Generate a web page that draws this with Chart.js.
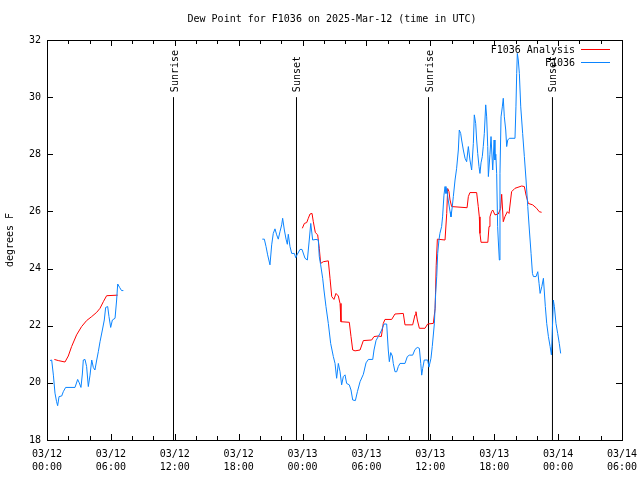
<!DOCTYPE html>
<html>
<head>
<meta charset="utf-8">
<title>Dew Point for F1036</title>
<script src="https://cdn.jsdelivr.net/npm/chart.js@4/dist/chart.umd.min.js"></script>
<style>
  html, body { margin: 0; padding: 0; background: #fff; }
  #wrap { width: 640px; height: 480px; }
</style>
</head>
<body>
<div id="wrap"><canvas id="dewChart" width="640" height="480"></canvas></div>
<script>
// hours since 03/12 00:00 UTC
const obsEarlyHours = [0.28, 0.44, 0.6, 0.75, 0.9, 1.0, 1.13, 1.38, 1.53, 1.75, 2.63, 2.88, 3.03, 3.19, 3.32, 3.41, 3.57, 3.72, 3.88, 4.04, 4.2, 4.35, 4.5, 4.67, 4.82, 4.98, 5.2, 5.38, 5.51, 5.7, 5.82, 5.98, 6.14, 6.39, 6.54, 6.64, 6.82, 7.0, 7.17];
const obsEarlyDew = [20.78, 20.8, 20.27, 19.64, 19.34, 19.2, 19.52, 19.54, 19.69, 19.84, 19.84, 20.12, 20.0, 19.84, 20.31, 20.8, 20.82, 20.57, 19.87, 20.27, 20.8, 20.54, 20.45, 20.8, 21.09, 21.44, 21.85, 22.2, 22.64, 22.67, 22.32, 21.94, 22.2, 22.26, 22.9, 23.46, 23.34, 23.23, 23.23];

const obsLateHours = [20.22, 20.41, 20.57, 20.72, 20.94, 21.1, 21.25, 21.41, 21.57, 21.72, 21.88, 22.04, 22.13, 22.29, 22.45, 22.57, 22.66, 22.82, 22.98, 23.23, 23.36, 23.48, 23.76, 23.95, 24.23, 24.45, 24.63, 24.77, 24.95, 25.26, 25.48, 25.57, 25.7, 25.89, 26.01, 26.2, 26.42, 26.64, 26.89, 27.05, 27.2, 27.36, 27.52, 27.67, 27.83, 27.99, 28.14, 28.39, 28.55, 28.71, 28.96, 29.15, 29.4, 29.71, 29.96, 30.18, 30.59, 30.71, 30.9, 31.11, 31.27, 31.43, 31.65, 31.9, 32.05, 32.15, 32.28, 32.43, 32.52, 32.68, 32.84, 32.99, 33.15, 33.62, 33.84, 34.03, 34.34, 34.56, 34.78, 34.97, 35.1, 35.19, 35.28, 35.43, 35.75, 35.87, 36.06, 36.18, 36.38, 36.5, 36.6, 36.69, 36.81, 36.9, 37.06, 37.15, 37.28, 37.38, 37.47, 37.55, 37.63, 37.85, 37.94, 38.06, 38.16, 38.32, 38.47, 38.63, 38.72, 38.85, 38.94, 39.1, 39.26, 39.41, 39.57, 39.72, 39.88, 40.04, 40.13, 40.26, 40.35, 40.45, 40.57, 40.66, 40.76, 40.88, 40.97, 41.07, 41.2, 41.29, 41.39, 41.45, 41.6, 41.7, 41.86, 41.99, 42.07, 42.15, 42.23, 42.32, 42.38, 42.48, 42.54, 42.64, 42.76, 42.85, 42.95, 43.08, 43.17, 43.27, 43.42, 43.95, 44.04, 44.11, 44.17, 44.26, 44.36, 44.49, 44.67, 44.83, 44.99, 45.15, 45.3, 45.46, 45.59, 45.68, 45.93, 46.09, 46.21, 46.31, 46.47, 46.62, 46.8, 46.93, 47.09, 47.25, 47.37, 47.43, 47.55, 47.65, 47.8, 47.96, 48.11, 48.24];
const obsLateDew = [25.03, 25.03, 24.77, 24.48, 24.13, 24.83, 25.23, 25.39, 25.18, 25.03, 25.29, 25.53, 25.76, 25.35, 25.03, 24.85, 25.2, 24.77, 24.53, 24.53, 24.38, 24.48, 24.67, 24.67, 24.36, 24.3, 25.0, 25.58, 25.0, 25.02, 25.0, 24.42, 24.13, 23.66, 23.25, 22.67, 22.08, 21.38, 20.92, 20.68, 20.16, 20.68, 20.39, 19.93, 20.22, 20.28, 19.98, 19.93, 19.75, 19.4, 19.38, 19.69, 20.04, 20.3, 20.7, 20.82, 20.82, 21.15, 21.48, 21.62, 21.73, 21.85, 22.06, 22.06, 21.15, 20.74, 21.06, 20.94, 20.68, 20.39, 20.39, 20.57, 20.68, 20.68, 20.92, 20.97, 20.97, 21.17, 21.24, 21.21, 20.68, 20.27, 20.5, 20.8, 20.8, 20.55, 20.86, 21.27, 22.08, 23.13, 23.72, 24.53, 25.0, 25.23, 25.47, 25.81, 26.57, 26.87, 26.63, 26.8, 26.52, 25.99, 25.81, 26.17, 26.52, 27.1, 27.51, 28.15, 28.85, 28.73, 28.5, 28.15, 27.86, 27.74, 28.27, 27.8, 27.45, 28.38, 29.38, 29.08, 28.5, 28.03, 27.57, 27.33, 27.7, 27.92, 28.27, 28.73, 29.73, 29.31, 28.27, 27.22, 28.0, 28.62, 27.45, 28.5, 27.8, 28.0, 27.33, 25.47, 25.0, 24.3, 27.33, 29.31, 29.66, 29.96, 29.31, 28.85, 28.27, 28.5, 28.56, 28.56, 29.66, 30.83, 31.53, 31.3, 30.83, 29.66, 28.73, 27.92, 27.1, 26.17, 25.35, 24.53, 23.83, 23.72, 23.72, 23.89, 23.48, 23.13, 23.37, 23.66, 22.67, 22.08, 21.62, 21.27, 20.98, 21.5, 22.9, 22.67, 22.08, 21.73, 21.38, 21.03];

const anaEarlyHours = [0.69, 1.06, 1.69, 2.0, 2.31, 2.78, 3.25, 3.72, 4.2, 4.67, 4.98, 5.29, 5.6, 6.64];
const anaEarlyDew = [20.82, 20.78, 20.73, 20.94, 21.27, 21.68, 21.97, 22.18, 22.32, 22.47, 22.61, 22.84, 23.05, 23.07];

const anaLateHours = [23.98, 24.17, 24.39, 24.54, 24.7, 24.89, 25.01, 25.2, 25.42, 25.57, 25.7, 25.95, 26.42, 26.58, 26.74, 26.95, 27.14, 27.36, 27.52, 27.61, 28.39, 28.55, 28.71, 28.93, 29.4, 29.71, 30.49, 30.71, 31.11, 31.4, 31.58, 31.74, 32.37, 32.68, 33.46, 33.62, 34.34, 34.56, 34.65, 34.78, 34.97, 35.5, 35.75, 36.28, 36.45, 36.55, 36.66, 37.38, 37.54, 37.63, 37.75, 37.85, 38.0, 39.45, 39.57, 39.72, 40.35, 40.5, 40.6, 40.66, 40.76, 41.4, 41.51, 41.6, 41.76, 41.86, 42.07, 42.38, 42.6, 42.7, 42.85, 43.01, 43.23, 43.39, 43.63, 43.95, 44.58, 44.83, 44.99, 45.2, 45.61, 45.98, 46.23, 46.45];
const anaLateDew = [25.41, 25.58, 25.61, 25.76, 25.91, 25.93, 25.64, 25.26, 25.18, 24.71, 24.18, 24.24, 24.27, 23.66, 23.02, 22.92, 23.13, 23.04, 22.78, 22.14, 22.12, 21.62, 21.15, 21.12, 21.15, 21.48, 21.5, 21.62, 21.64, 21.62, 22.08, 22.22, 22.22, 22.41, 22.43, 22.03, 22.03, 22.38, 22.49, 22.2, 21.91, 21.91, 22.06, 22.08, 22.6, 24.1, 25.03, 25.0, 25.93, 26.8, 26.7, 26.4, 26.17, 26.13, 26.52, 26.66, 26.66, 26.17, 25.81, 25.23, 24.92, 24.92, 25.47, 25.81, 26.0, 26.05, 25.88, 25.91, 26.1, 26.6, 25.64, 25.82, 25.99, 25.93, 26.69, 26.81, 26.89, 26.87, 26.57, 26.28, 26.23, 26.11, 25.99, 25.97];

const sunNames = ['Sunrise', 'Sunset', 'Sunrise', 'Sunset'];
const sunHours = [11.88, 23.43, 35.83, 47.47];

const xTicks = [0, 6, 12, 18, 24, 30, 36, 42, 48, 54];
const yTicks = [18, 20, 22, 24, 26, 28, 30, 32];
const sunLineTop = 30;

const FONT = '"DejaVu Sans Mono", "Liberation Mono", monospace';
const RED = '#ff0000';
const BLUE = '#0a84ff';

function toPoints(hours, vals) {
  return hours.map((h, i) => ({ x: h, y: vals[i] }));
}

// join segments with a null point so the line breaks
function joinSegments(a, b) {
  const gapAt = (a[a.length - 1].x + b[0].x) / 2;
  return a.concat([{ x: gapAt, y: null }], b);
}

function tickLabel(h) {
  const day = 12 + Math.floor(h / 24);
  const hh = h % 24;
  return ['03/' + day, (hh < 10 ? '0' : '') + hh + ':00'];
}

const obsData = joinSegments(toPoints(obsEarlyHours, obsEarlyDew), toPoints(obsLateHours, obsLateDew));
const anaData = joinSegments(toPoints(anaEarlyHours, anaEarlyDew), toPoints(anaLateHours, anaLateDew));

const sunSets = sunHours.map((h, i) => ({
  label: sunNames[i],
  data: [{ x: h, y: 18 }, { x: h, y: sunLineTop }],
  borderColor: '#000',
  borderWidth: 1,
  pointRadius: 0
}));

const decor = {
  id: 'decor',
  afterDraw(chart) {
    const { ctx, chartArea: a, scales: { x, y } } = chart;
    ctx.save();
    ctx.strokeStyle = '#000';
    ctx.lineWidth = 1;
    ctx.strokeRect(a.left + 0.5, a.top + 0.5, a.right - a.left, a.bottom - a.top);

    ctx.beginPath();
    for (let h = 0; h <= 54; h += 2) {
      const px = Math.round(x.getPixelForValue(h)) + 0.5;
      const len = h % 6 === 0 ? 6 : 4;
      ctx.moveTo(px, a.bottom); ctx.lineTo(px, a.bottom - len);
      ctx.moveTo(px, a.top); ctx.lineTo(px, a.top + len);
    }
    yTicks.forEach(v => {
      const py = Math.round(y.getPixelForValue(v)) + 0.5;
      ctx.moveTo(a.left, py); ctx.lineTo(a.left + 6, py);
      ctx.moveTo(a.right, py); ctx.lineTo(a.right - 6, py);
    });
    ctx.stroke();

    ctx.fillStyle = '#000';
    ctx.font = '10px ' + FONT;

    // sun labels
    sunHours.forEach((h, i) => {
      ctx.save();
      ctx.translate(Math.round(x.getPixelForValue(h)) + 1, y.getPixelForValue(sunLineTop) - 5);
      ctx.rotate(-Math.PI / 2);
      ctx.textAlign = 'left';
      ctx.textBaseline = 'middle';
      ctx.fillText(sunNames[i], 0, 0);
      ctx.restore();
    });

    // title
    ctx.textAlign = 'center';
    ctx.textBaseline = 'middle';
    ctx.fillText('Dew Point for F1036 on 2025-Mar-12 (time in UTC)', 332, 19);

    // y label
    ctx.save();
    ctx.translate(10, 240);
    ctx.rotate(-Math.PI / 2);
    ctx.fillText('degrees F', 0, 0);
    ctx.restore();

    // legend
    const items = [['F1036 Analysis', RED], ['F1036', BLUE]];
    items.forEach(([txt, col], i) => {
      const ly = 50 + i * 13;
      ctx.textAlign = 'right';
      ctx.fillStyle = '#000';
      ctx.fillText(txt, 575, ly);
      ctx.strokeStyle = col;
      ctx.beginPath();
      ctx.moveTo(581, ly - 0.5);
      ctx.lineTo(610, ly - 0.5);
      ctx.stroke();
    });
    ctx.restore();
  }
};

const ctx = document.getElementById('dewChart').getContext('2d');
const dewChart = new Chart(ctx, {
  type: 'line',
  data: {
    datasets: [
      {
        label: 'F1036',
        data: obsData,
        borderColor: BLUE,
        borderWidth: 1,
        pointRadius: 0,
        tension: 0,
        spanGaps: false
      },
      {
        label: 'F1036 Analysis',
        data: anaData,
        borderColor: RED,
        borderWidth: 1,
        pointRadius: 0,
        tension: 0,
        spanGaps: false
      },
      ...sunSets
    ]
  },
  options: {
    responsive: false,
    animation: false,
    layout: { padding: { top: 40, right: 18, left: 0, bottom: 0 } },
    plugins: {
      legend: { display: false },
      title: { display: false },
      tooltip: { enabled: false }
    },
    scales: {
      x: {
        type: 'linear',
        min: 0,
        max: 54,
        afterFit: s => { s.height = 40; s.paddingLeft = 0; s.paddingRight = 0; },
        afterBuildTicks: s => { s.ticks = xTicks.map(v => ({ value: v })); },
        grid: { display: false, drawTicks: false },
        border: { display: false },
        ticks: {
          autoSkip: false,
          maxRotation: 0,
          padding: 8,
          color: '#000',
          font: { family: FONT, size: 10, lineHeight: 1.3 },
          callback: v => tickLabel(v)
        }
      },
      y: {
        type: 'linear',
        min: 18,
        max: 32,
        afterFit: s => { s.width = 47; s.paddingTop = 0; s.paddingBottom = 0; },
        afterBuildTicks: s => { s.ticks = yTicks.map(v => ({ value: v })); },
        grid: { display: false, drawTicks: false },
        border: { display: false },
        ticks: {
          padding: 6,
          color: '#000',
          font: { family: FONT, size: 10 }
        }
      }
    }
  },
  plugins: [decor]
});
</script>
</body>
</html>
